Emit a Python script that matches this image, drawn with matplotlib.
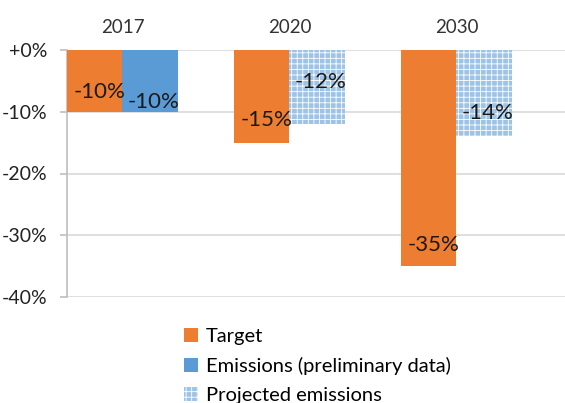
import matplotlib
matplotlib.use("Agg")
import matplotlib.pyplot as plt
from matplotlib.patches import Patch
import numpy as np

years = ["2017", "2020", "2030"]
target = [-10, -15, -35]
emissions = [-10, np.nan, np.nan]
projected = [np.nan, -12, -14]

# where the value labels sit, relative to the bar end (in % units)
target_label_shift = [3.2, 3.7, 3.4]
second_label_shift = [1.6, 6.8, 3.8]

ORANGE = "#ED7D31"
BLUE = "#5B9BD5"
LIGHTBLUE = "#9DC3E6"

plt.rcParams["font.family"] = ["Lato", "DejaVu Sans"]
plt.rcParams["hatch.linewidth"] = 0.6

fig = plt.figure(figsize=(5.65, 4.03), dpi=100)
ax = fig.add_axes([67 / 565, 1 - 297 / 403, 1 - 67 / 565, (297 - 50) / 403])

x = np.arange(len(years))
w = 0.333

ax.bar(x - w / 2, target, w, color=ORANGE, linewidth=0, zorder=3)
ax.bar(x + w / 2, emissions, w, color=BLUE, linewidth=0, zorder=3)
ax.bar(x + w / 2, projected, w, color=LIGHTBLUE, edgecolor="white",
       hatch="+++", linewidth=0, zorder=3)

for i in range(len(years)):
    ax.text(x[i] - w / 2 + 0.03, target[i] + target_label_shift[i], f"{target[i]}%",
            ha="center", va="center", fontsize=16, color="#1a1a1a", zorder=4)
    second = emissions[i] if not np.isnan(emissions[i]) else projected[i]
    ax.text(x[i] + w / 2 + 0.02, second + second_label_shift[i], f"{second:.0f}%",
            ha="center", va="center", fontsize=16, color="#1a1a1a", zorder=4)

ax.set_xlim(-0.332, 2.65)
ax.set_ylim(-40, 0)
ax.set_yticks([0, -10, -20, -30, -40])
ax.set_yticklabels(["+0%", "-10%", "-20%", "-30%", "-40%"])
ax.yaxis.grid(True, color="#D9D9D9", linewidth=1.2, zorder=0)

ax.xaxis.tick_top()
ax.set_xticks(x)
ax.set_xticklabels(years)
ax.tick_params(axis="x", length=0, pad=10, labelsize=13.5, colors="#333333")
ax.tick_params(axis="y", length=5, pad=9, labelsize=14, colors="#BFBFBF",
               labelcolor="#222222", width=1.2)

for s in ["top", "right", "bottom"]:
    ax.spines[s].set_visible(False)
ax.spines["left"].set_color("#BFBFBF")
ax.spines["left"].set_linewidth(1.2)

handles = [
    Patch(facecolor=ORANGE, linewidth=0, label="Target"),
    Patch(facecolor=BLUE, linewidth=0, label="Emissions (preliminary data)"),
    Patch(facecolor=LIGHTBLUE, edgecolor="white", hatch="+++", linewidth=0,
          label="Projected emissions"),
]
fig.legend(handles=handles, loc="upper left", bbox_to_anchor=(184 / 565, 1 - 328 / 403),
           frameon=False, fontsize=14.5, handlelength=0.7, handleheight=0.7,
           handletextpad=0.4, labelspacing=0.6, borderpad=0, borderaxespad=0)

fig.savefig("out.png", dpi=100)
